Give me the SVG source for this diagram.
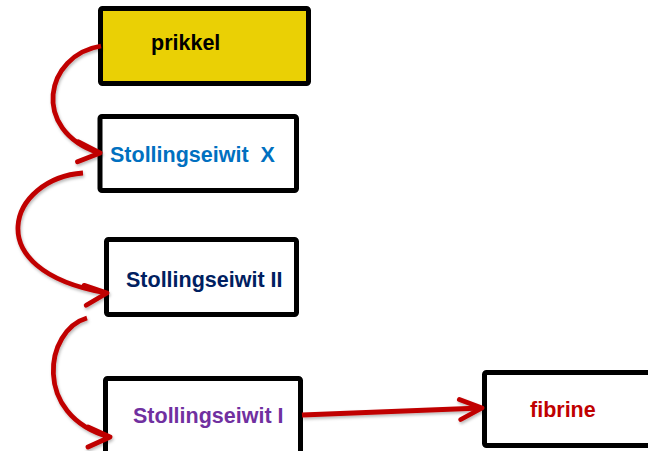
<svg xmlns="http://www.w3.org/2000/svg" width="648" height="451" viewBox="0 0 648 451">
  <style>
    .box { fill: #ffffff; stroke: #000000; stroke-width: 5; }
    .box.start { fill: #EAD005; }
    .label { font-family: "Liberation Sans", Arial, sans-serif; font-weight: bold; font-size: 21.5px; }
    .link { fill: none; stroke: #C00000; stroke-width: 4.8; stroke-linecap: butt; stroke-linejoin: round; }
    .head { fill: none; stroke: #C00000; stroke-width: 4.8; stroke-linecap: round; stroke-linejoin: round; }
  </style>
  <defs>
    <filter id="soft-shadow" x="-10%" y="-10%" width="120%" height="130%">
      <feDropShadow dx="1" dy="2" stdDeviation="1.4" flood-color="#000000" flood-opacity="0.28"/>
    </filter>
    <!-- open chevron arrowhead, tip at the origin, pointing along +x -->
    <path id="chevron" d="M-22,-10 L0,0 L-22,10"/>
  </defs>
  <rect width="648" height="451" fill="#ffffff"/>

  <g id="prikkel">
    <rect class="box start" x="100.5" y="8.5" width="208" height="75" rx="2"/>
    <text class="label" x="151" y="50" fill="#000000">prikkel</text>
  </g>

  <g id="stollingseiwit-x">
    <rect class="box" x="100" y="116.5" width="196.5" height="74" rx="2"/>
    <text class="label" x="110" y="162" fill="#0070C0" xml:space="preserve">Stollingseiwit  X</text>
  </g>

  <g id="stollingseiwit-ii">
    <rect class="box" x="106.5" y="239.5" width="190" height="75" rx="2"/>
    <text class="label" x="126" y="287" fill="#002060">Stollingseiwit II</text>
  </g>

  <g id="stollingseiwit-i">
    <rect class="box" x="105.5" y="378.5" width="195" height="80" rx="2"/>
    <text class="label" x="133" y="423" fill="#7030A0">Stollingseiwit I</text>
  </g>

  <g id="fibrine">
    <rect class="box" x="484.5" y="372.5" width="180" height="73" rx="2"/>
    <text class="label" x="530" y="417" fill="#C00000">fibrine</text>
  </g>

  <g id="connectors" filter="url(#soft-shadow)">
    <!-- prikkel -> Stollingseiwit X -->
    <path class="link" d="M101,46 C45,55 30,130 99,153"/>
    <use href="#chevron" class="head" transform="translate(100,153) rotate(3)"/>
    <!-- Stollingseiwit X -> Stollingseiwit II -->
    <path class="link" d="M83,173 C10,178 -25,270 106,293"/>
    <use href="#chevron" class="head" transform="translate(107,293) rotate(-6)"/>
    <!-- Stollingseiwit II -> Stollingseiwit I -->
    <path class="link" d="M87,318 C45,330 32,415 109,437"/>
    <use href="#chevron" class="head" transform="translate(110,437) rotate(0)"/>
    <!-- Stollingseiwit I -> fibrine -->
    <path class="link" d="M302,415 L481,408"/>
    <use href="#chevron" class="head" transform="translate(482,408) rotate(-4)"/>
  </g>
</svg>
